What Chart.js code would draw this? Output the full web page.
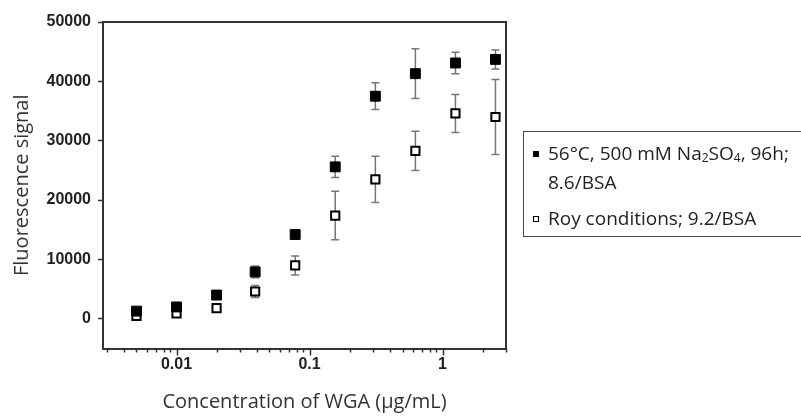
<!DOCTYPE html>
<html>
<head>
<meta charset="utf-8">
<script src="https://cdn.jsdelivr.net/npm/chart.js@4.4.1/dist/chart.umd.min.js"></script>
<style>
  body { margin: 0; background: #fff; }
  #wrap { position: relative; width: 801px; height: 416px; overflow: hidden; }
  #legend {
    position: absolute; left: 523px; top: 131px; width: 300px; height: 104px;
    border: 1.5px solid #444; font-family: "Open Sans", sans-serif; font-size: 19px; color: #222;
  }
  .item { position: absolute; left: 24px; line-height: 29px; white-space: nowrap; }
  .item sub { font-size: 12px; vertical-align: -2px; line-height: 0; }
  .mark { position: absolute; left: -15px; width: 6px; height: 6px; box-sizing: border-box; border: 1.3px solid #000; }
</style>
</head>
<body>
<div id="wrap">
  <canvas id="graph" width="801" height="416"></canvas>
  <div id="legend"></div>
</div>
<script>
// données
const concentrations = [0.005, 0.01, 0.02, 0.039, 0.078, 0.156, 0.3125, 0.625, 1.25, 2.5]
const optimized = [1300, 2000, 4000, 7900, 14200, 25600, 37500, 41300, 43100, 43700]
const optimizedErr = [300, 450, 350, 1000, 400, 1800, 2250, 4200, 1800, 1600]
const roy = [500, 900, 1800, 4600, 9000, 17400, 23500, 28300, 34600, 34000]
const royErr = [300, 350, 300, 1000, 1600, 4100, 3900, 3300, 3200, 6300]

const seriesLabels = ['56°C, 500 mM Na<sub>2</sub>SO<sub>4</sub>, 96h;<br>8.6/BSA', 'Roy conditions; 9.2/BSA']
const yTicks = [0, 10000, 20000, 30000, 40000, 50000]
const xMajor = [0.01, 0.1, 1]
const xTickLabels = ['0.01', '0.1', '1']
const xMinor = [0.003, 0.004, 0.005, 0.006, 0.007, 0.008, 0.009,
  0.02, 0.03, 0.04, 0.05, 0.06, 0.07, 0.08, 0.09,
  0.2, 0.3, 0.4, 0.5, 0.6, 0.7, 0.8, 0.9, 2, 3]

const AXIS = '#333'

function toPoints(ys) {
  return concentrations.map((c, i) => ({ x: c, y: ys[i] }))
}

// barres d'erreur dessinées avant les points
const errorBars = {
  id: 'errorBars',
  beforeDatasetsDraw(chart) {
    const { ctx, scales: { x, y } } = chart
    const errs = [optimizedErr, royErr]
    ctx.save()
    ctx.strokeStyle = '#777'
    ctx.lineWidth = 1.5
    chart.data.datasets.forEach((ds, d) => {
      ds.data.forEach((p, i) => {
        const px = x.getPixelForValue(p.x)
        const top = y.getPixelForValue(p.y + errs[d][i])
        const bot = y.getPixelForValue(p.y - errs[d][i])
        ctx.beginPath()
        ctx.moveTo(px, top); ctx.lineTo(px, bot)
        ctx.moveTo(px - 4, top); ctx.lineTo(px + 4, top)
        ctx.moveTo(px - 4, bot); ctx.lineTo(px + 4, bot)
        ctx.stroke()
      })
    })
    ctx.restore()
  }
}

// cadre complet + graduations log (majeures plus longues)
const frame = {
  id: 'frame',
  afterDraw(chart) {
    const { ctx, chartArea: a, scales: { x } } = chart
    ctx.save()
    ctx.strokeStyle = AXIS
    ctx.lineWidth = 2
    ctx.beginPath()
    ctx.moveTo(a.left, a.top); ctx.lineTo(a.right, a.top); ctx.lineTo(a.right, a.bottom)
    ctx.stroke()
    ctx.lineWidth = 1.5
    ctx.beginPath()
    xMinor.concat(xMajor).forEach(v => {
      const px = Math.round(x.getPixelForValue(v)) + 0.5
      const len = xMajor.includes(v) ? 7 : 4
      ctx.moveTo(px, a.bottom); ctx.lineTo(px, a.bottom + len)
    })
    ctx.stroke()
    ctx.restore()
  }
}

document.addEventListener('DOMContentLoaded', function () {
  const config = {
    type: 'scatter',
    data: {
      datasets: [{
        label: 'optimized',
        data: toPoints(optimized),
        pointStyle: 'rect',
        pointRadius: 7,
        backgroundColor: '#000',
        borderColor: '#000',
        borderWidth: 1
      }, {
        label: 'roy',
        data: toPoints(roy),
        pointStyle: 'rect',
        pointRadius: 5.8,
        backgroundColor: '#fff',
        borderColor: '#000',
        borderWidth: 2
      }]
    },
    options: {
      responsive: false,
      animation: false,
      layout: { padding: { top: 22, right: 295, left: 0, bottom: 0 } },
      plugins: { legend: { display: false }, tooltip: { enabled: false } },
      scales: {
        x: {
          type: 'logarithmic',
          min: 0.0028,
          max: 3,
          afterBuildTicks: s => { s.ticks = xMajor.map(v => ({ value: v })) },
          afterFit: s => { s.height = 67.5 },
          ticks: {
            autoSkip: false, maxRotation: 0, padding: 6, color: '#222',
            font: { family: 'Liberation Sans', size: 16, weight: 'bold' },
            callback: v => xTickLabels[xMajor.indexOf(v)]
          },
          grid: { drawOnChartArea: false, drawTicks: false },
          border: { display: true, color: AXIS, width: 2 },
          title: {
            display: true, text: 'Concentration of WGA (µg/mL)', color: '#333',
            font: { family: 'Open Sans', size: 20 }, padding: { bottom: 2 }
          }
        },
        y: {
          min: -5000,
          max: 50000,
          afterBuildTicks: s => { s.ticks = yTicks.map(v => ({ value: v })) },
          afterFit: s => { s.width = 103 },
          ticks: {
            padding: 7, color: '#222',
            font: { family: 'Liberation Sans', size: 16, weight: 'bold' },
            callback: v => String(v)
          },
          grid: { drawOnChartArea: false, drawTicks: true, tickLength: 5, tickColor: AXIS, tickWidth: 1.5 },
          border: { display: true, color: AXIS, width: 2 },
          title: {
            display: true, text: 'Fluorescence signal', color: '#333',
            font: { family: 'Open Sans', size: 20 }, padding: { top: 10 }
          }
        }
      }
    },
    plugins: [errorBars, frame]
  }

  new Chart(document.getElementById('graph'), config)

  // légende HTML (texte réel, avec indices)
  const legend = document.getElementById('legend')
  const tops = [7, 72]
  seriesLabels.forEach((txt, i) => {
    const item = document.createElement('div')
    item.className = 'item'
    item.style.top = tops[i] + 'px'
    item.innerHTML = '<span class="mark" style="top:12px;background:' + (i === 0 ? '#000' : '#fff') + '"></span>' + txt
    legend.appendChild(item)
  })
})
</script>
</body>
</html>
